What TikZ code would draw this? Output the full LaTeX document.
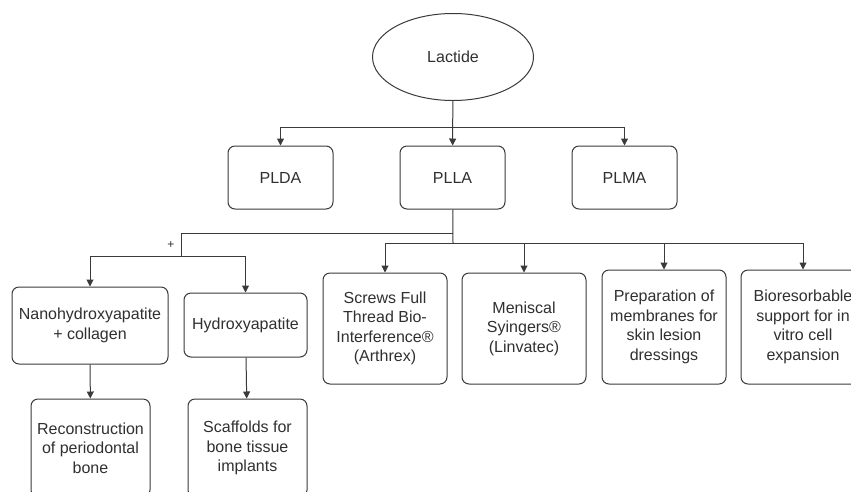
\documentclass[tikz,border=0pt]{standalone}
\usepackage{fontspec}
\setmainfont{Liberation Sans}
\usetikzlibrary{shapes.geometric,arrows.meta}
\definecolor{linec}{HTML}{3A3A3A}
\definecolor{textc}{HTML}{303030}
\begin{document}
\begin{tikzpicture}[x=1pt,y=-1pt,
  every node/.style={text=textc, font=\fontsize{16}{19.5}\selectfont, align=center, inner sep=0pt},
  box/.style={draw=linec, line width=1pt, rounded corners=7pt, fill=white},
  oval/.style={draw=linec, line width=1pt, ellipse, fill=white},
  conn/.style={draw=linec, line width=1pt},
  arr/.style={conn, -{Triangle[width=7pt,length=7pt]}}]
\useasboundingbox (0,0) rectangle (851,491);
\clip (0,0) rectangle (851,491);
% nodes
\node[oval, minimum width=161pt, minimum height=87pt] (lac) at (453,57) {Lactide};
\node[box, minimum width=105pt, minimum height=63pt] (plda) at (280.5,177.5) {PLDA};
\node[box, minimum width=105pt, minimum height=63pt] (plla) at (452.5,177.5) {PLLA};
\node[box, minimum width=105pt, minimum height=63pt] (plma) at (624.5,177.5) {PLMA};
\node[box, minimum width=156pt, minimum height=77pt] (nano) at (90,325.5) {Nanohydroxyapatite\\+ collagen};
\node[box, minimum width=123pt, minimum height=64pt] (hydr) at (245.5,325) {Hydroxyapatite};
\node[box, minimum width=124pt, minimum height=111pt] (screw) at (385,328.5) {Screws Full\\Thread Bio-\\Interference®\\(Arthrex)};
\node[box, minimum width=124pt, minimum height=111pt] (menis) at (524,328.5) {Meniscal\\Syingers®\\(Linvatec)};
\node[box, minimum width=124pt, minimum height=114pt] (prep) at (664,327) {Preparation of\\membranes for\\skin lesion\\dressings};
\node[box, minimum width=124pt, minimum height=114pt] (bio) at (803,327) {Bioresorbable\\support for in\\vitro cell\\expansion};
\node[box, minimum width=119pt, minimum height=98pt] (recon) at (90.5,448) {Reconstruction\\of periodontal\\bone};
\node[box, minimum width=119pt, minimum height=98pt] (scaf) at (247.5,448) {Scaffolds for\\bone tissue\\implants};
% junctions
\coordinate (j1) at (453,127);
\coordinate (j2) at (453,243);
\coordinate (j3) at (453,233);
\coordinate (j4) at (181,256);
\node[font=\fontsize{12}{14}\selectfont] (plus) at (171,245) {+};
% connectors
\draw[arr] (lac) -- (plla);
\draw[arr] (j1) -| (plda);
\draw[arr] (j1) -| (plma);
\draw[conn] (plla) -- (j2);
\draw[conn] (j3) -| (j4);
\draw[arr] (j4) -| (nano);
\draw[arr] (j4) -| (hydr);
\draw[arr] (j2) -| (screw);
\draw[arr] (j2) -| (menis);
\draw[arr] (j2) -| (prep);
\draw[arr] (j2) -| (bio);
\draw[arr] (nano) -- (recon);
\draw[arr] (hydr) -- (scaf);
\end{tikzpicture}
\end{document}
